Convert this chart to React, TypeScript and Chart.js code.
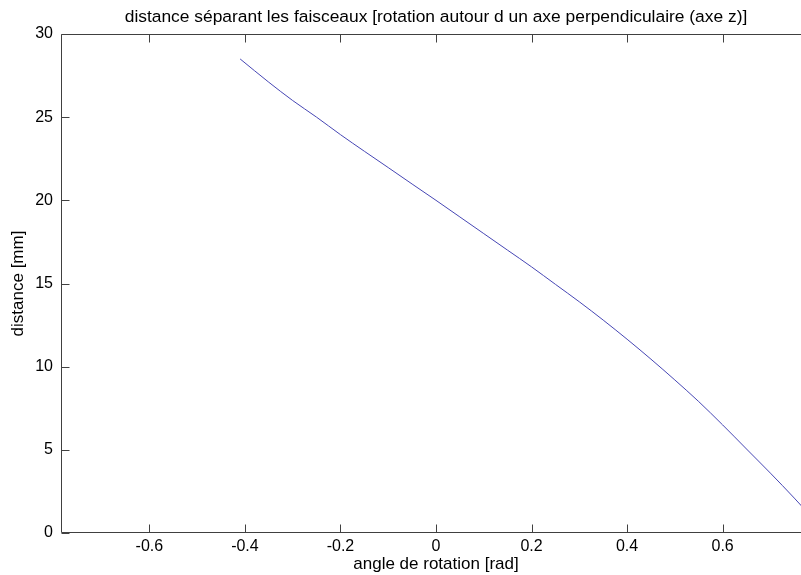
import React, { useEffect, useRef } from "react";
import { Chart, registerables } from "chart.js";

Chart.register(...registerables);

const chartTitle =
  "distance séparant les faisceaux [rotation autour d un axe perpendiculaire (axe z)]";
const xAxisTitle = "angle de rotation [rad]";
const yAxisTitle = "distance [mm]";

const angles = [
  -0.41, -0.35, -0.3, -0.25, -0.2, -0.15, -0.1, -0.05, 0, 0.05, 0.1, 0.15, 0.2,
  0.25, 0.3, 0.35, 0.4, 0.45, 0.5, 0.55, 0.6, 0.65, 0.7, 0.75, 0.785,
];
const distances = [
  28.5, 27.1, 26.0, 25.0, 23.95, 22.95, 21.97, 20.98, 20.0, 19.0, 18.0, 17.0,
  16.0, 14.95, 13.9, 12.8, 11.65, 10.45, 9.2, 7.9, 6.5, 5.05, 3.6, 2.1, 1.0,
];

const xTickValues = [-0.6, -0.4, -0.2, 0, 0.2, 0.4, 0.6];
const yTickValues = [0, 5, 10, 15, 20, 25, 30];

const xMin = -0.785;
const xMax = 0.785;
const yMin = 0;
const yMax = 30;

const FONT = "'Liberation Sans', Arial, Helvetica, sans-serif";
const AXIS_COLOR = "#404040";
const TEXT_COLOR = "#000000";

const framePlugin = {
  id: "matlabFrame",
  afterDraw(chart: any) {
    const ctx = chart.ctx;
    const area = chart.chartArea;
    const xs = chart.scales.x;
    const ys = chart.scales.y;
    const tick = 8;
    const l = Math.round(area.left) + 0.5;
    const r = Math.round(area.right) - 0.5;
    const t = Math.round(area.top) + 0.5;
    const b = Math.round(area.bottom) - 0.5;
    ctx.save();
    ctx.strokeStyle = AXIS_COLOR;
    ctx.lineWidth = 1;
    ctx.beginPath();
    ctx.moveTo(l, t);
    ctx.lineTo(r, t);
    ctx.moveTo(r, t);
    ctx.lineTo(r, b);
    ctx.moveTo(r, b);
    ctx.lineTo(l, b);
    ctx.moveTo(l, b);
    ctx.lineTo(l, t);
    ctx.stroke();
    xTickValues.forEach((v) => {
      const px = Math.round(xs.getPixelForValue(v)) + 0.5;
      ctx.beginPath();
      ctx.moveTo(px, b);
      ctx.lineTo(px, b - tick);
      ctx.moveTo(px, t);
      ctx.lineTo(px, t + tick);
      ctx.stroke();
    });
    yTickValues.forEach((v) => {
      const py = Math.round(ys.getPixelForValue(v)) + 0.5;
      ctx.beginPath();
      ctx.moveTo(l, py);
      ctx.lineTo(l + tick, py);
      ctx.moveTo(r, py);
      ctx.lineTo(r - tick, py);
      ctx.stroke();
    });

    ctx.fillStyle = TEXT_COLOR;
    ctx.font = `17.4px ${FONT}`;
    ctx.textAlign = "center";
    ctx.textBaseline = "middle";
    ctx.fillText(chartTitle, (area.left + area.right) / 2, 17);
    ctx.restore();
  },
};

export default function App() {
  const canvasRef = useRef<HTMLCanvasElement | null>(null);

  useEffect(() => {
    const canvas = canvasRef.current;
    if (!canvas) return;
    const points = angles.map((a, i) => ({ x: a, y: distances[i] }));
    const chart = new Chart(canvas, {
      type: "line",
      data: {
        datasets: [
          {
            data: points,
            borderColor: "#4646b4",
            borderWidth: 1,
            pointRadius: 0,
            tension: 0.4,
            cubicInterpolationMode: "monotone",
            fill: false,
          },
        ],
      },
      options: {
        animation: false,
        responsive: false,
        devicePixelRatio: 1,
        layout: { padding: { top: 34, right: 9, left: 0, bottom: 0 } },
        plugins: {
          legend: { display: false },
          title: { display: false },
          tooltip: { enabled: false },
        },
        scales: {
          x: {
            type: "linear",
            min: xMin,
            max: xMax,
            grid: { display: false, drawTicks: false },
            border: { display: false },
            afterBuildTicks: (scale: any) => {
              scale.ticks = xTickValues.map((v) => ({ value: v }));
            },
            ticks: {
              padding: 4,
              color: TEXT_COLOR,
              font: { family: FONT, size: 16 },
              maxRotation: 0,
              autoSkip: false,
              callback: (v: any) => {
                const n = Math.round(Number(v) * 10) / 10;
                return n === 0 ? "0" : String(n);
              },
            },
            title: {
              display: true,
              text: xAxisTitle,
              color: TEXT_COLOR,
              font: { family: FONT, size: 17 },
              padding: { top: 0, bottom: 0 },
            },
            afterFit: (scale: any) => {
              scale.height = 42;
            },
          },
          y: {
            type: "linear",
            min: yMin,
            max: yMax,
            grid: { display: false, drawTicks: false },
            border: { display: false },
            afterBuildTicks: (scale: any) => {
              scale.ticks = yTickValues.map((v) => ({ value: v }));
            },
            ticks: {
              padding: 8,
              color: TEXT_COLOR,
              font: { family: FONT, size: 16 },
            },
            title: {
              display: true,
              text: yAxisTitle,
              color: TEXT_COLOR,
              font: { family: FONT, size: 17 },
              padding: { top: 8, bottom: 0 },
            },
            afterFit: (scale: any) => {
              scale.width = 61;
            },
          },
        },
      },
      plugins: [framePlugin],
    });
    return () => chart.destroy();
  }, []);

  return (
    <div
      style={{
        position: "absolute",
        left: 0,
        top: 0,
        width: 801,
        height: 575,
        overflow: "hidden",
        background: "#ffffff",
      }}
    >
      <canvas
        ref={canvasRef}
        width={820}
        height={575}
        style={{ display: "block", width: 820, height: 575 }}
      />
    </div>
  );
}
